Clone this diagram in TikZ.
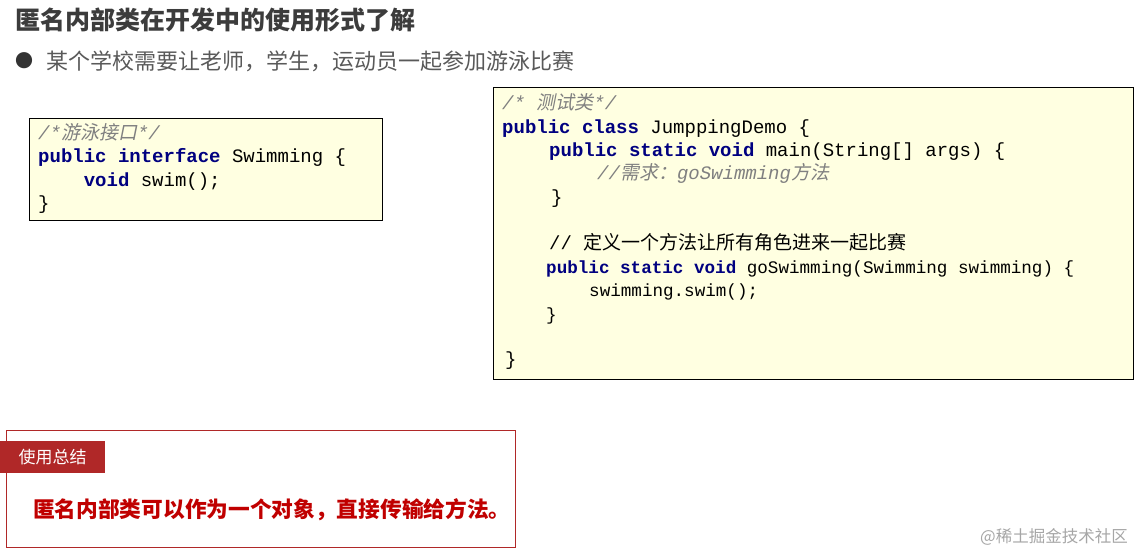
\documentclass[tikz,border=0pt]{standalone}
\usepackage{fontspec}
\setmainfont{Noto Sans CJK SC}
\setmonofont{Liberation Mono}
\newfontfamily\cjk{Noto Sans CJK SC}
\newfontfamily\cjkit[FakeSlant=0.2]{Noto Sans CJK SC}
\definecolor{titlegray}{RGB}{60,60,60}
\definecolor{bulletgray}{RGB}{89,89,89}
\definecolor{codefill}{RGB}{255,255,225}
\definecolor{kwblue}{RGB}{0,0,128}
\definecolor{cmtgray}{RGB}{128,128,128}
\definecolor{tabred}{RGB}{176,40,40}
\definecolor{sumred}{RGB}{192,0,0}
\newcommand{\kw}[1]{{\color{kwblue}\bfseries #1}}
\newcommand{\cmt}[1]{{\color{cmtgray}\itshape #1}}
\tikzset{
  codebox/.style={draw=black, fill=codefill, line width=0.8pt},
  codeline/.style={anchor=west, inner sep=0pt, text height=17pt, text depth=4pt,
    font=\ttfamily\fontsize{19}{23}\selectfont},
  narrowline/.style={codeline, font=\ttfamily\fontsize{17.6}{22}\selectfont}
}
\begin{document}
\begin{tikzpicture}[x=1pt, y=-1pt]
  \useasboundingbox (0,0) rectangle (1146,553);

  % heading
  \node[anchor=west, inner sep=0pt, text=titlegray, font=\fontsize{25}{29}\selectfont\bfseries]
    (title) at (15,20) {匿名内部类在开发中的使用形式了解};
  \node[anchor=center, inner sep=0pt, text=black!80, font=\fontsize{18}{20}\selectfont]
    (dot) at (25,61) {●};
  \node[anchor=west, inner sep=0pt, text=bulletgray, font=\fontsize{22}{26}\selectfont]
    (task) at (46,61) {某个学校需要让老师，学生，运动员一起参加游泳比赛};

  % interface box
  \draw[codebox] (29,118) rectangle (382,220);
  \node[codeline] (i1) at (38,133) {\cmt{/*{\cjkit 游泳接口}*/}};
  \node[codeline] (i2) at (38,156) {\kw{public} \kw{interface} Swimming \{};
  \node[codeline] (i3) at (38,180) {\kw{\ \ \ \ void} swim();};
  \node[codeline] (i4) at (38,203) {\}};

  % test class box
  \draw[codebox] (493,87) rectangle (1133,379);
  \node[codeline] (t1) at (502,103) {\cmt{/* {\cjkit 测试类}*/}};
  \node[codeline] (t2) at (502,127) {\kw{public} \kw{class} JumppingDemo \{};
  \node[codeline] (t3) at (549,150) {\kw{public} \kw{static} \kw{void} main(String[] args) \{};
  \node[codeline] (t4) at (597,173) {\cmt{//{\cjkit 需求：}goSwimming{\cjkit 方法}}};
  \node[codeline] (t5) at (551,197) {\}};
  \node[codeline] (t6) at (549,243) {// {\cjk\fontsize{19}{23}\selectfont 定义一个方法让所有角色进来一起比赛}};
  \node[narrowline] (t7) at (546,267) {\kw{public} \kw{static} \kw{void} goSwimming(Swimming swimming) \{};
  \node[narrowline] (t8) at (589,290) {swimming.swim();};
  \node[narrowline] (t9) at (546,314) {\}};
  \node[codeline] (t10) at (505,359) {\}};

  % summary
  \draw[draw=tabred, line width=0.8pt] (6,430) rectangle (515,547);
  \node[fill=tabred, text=white, anchor=north west, inner sep=0pt, minimum width=105pt,
    minimum height=32pt, font=\fontsize{17}{20}\selectfont] (tab) at (0,441) {使用总结};
  \node[anchor=west, inner sep=0pt, text=sumred, font=\fontsize{21.7}{26}\selectfont\bfseries]
    (summary) at (33,510) {匿名内部类可以作为一个对象，直接传输给方法。};

  \node[anchor=west, inner sep=0pt, text=black!35, font=\fontsize{16.5}{18}\selectfont]
    (mark) at (980,537) {@稀土掘金技术社区};
\end{tikzpicture}
\end{document}
